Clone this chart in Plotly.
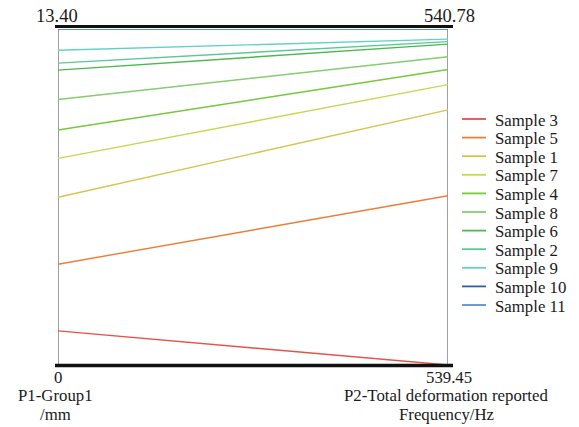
import plotly.graph_objects as go

samples = ["Sample 3", "Sample 5", "Sample 1", "Sample 7", "Sample 4", "Sample 8",
           "Sample 6", "Sample 2", "Sample 9", "Sample 10", "Sample 11"]
p1_group1_mm = [1.36, 4.02, 6.69, 8.24, 9.37, 10.59, 11.76, 12.04, 12.55, 13.40, 13.40]
p2_freq_hz = [539.45, 540.12, 540.46, 540.56, 540.62, 540.67, 540.72, 540.73, 540.74, 540.78, 540.78]
colors = ["#e8504a", "#ee7d34", "#d8c24a", "#c6d850", "#76c83c", "#86cc70",
          "#4cb850", "#5cc894", "#62d2c4", "#2a5fa8", "#5b8fd0"]

axis1_range = (0.0, 13.40)
axis2_range = (539.45, 540.78)
axis1_labels = ["P1-Group1", "/mm"]
axis2_labels = ["P2-Total deformation reported", "Frequency/Hz"]

FONT = "Liberation Serif"
W, H = 579, 427
ML, MR, MT, MB = 58, 131, 29, 62
PW, PH = W - ML - MR, H - MT - MB


def norm(v, rng):
    return (v - rng[0]) / (rng[1] - rng[0])


def px_x(x):
    return (x - ML) / PW


def px_y(y):
    return (H - MB - y) / PH


fig = go.Figure()
for name, a, b, c in zip(samples, p1_group1_mm, p2_freq_hz, colors):
    fig.add_trace(go.Scatter(
        x=[0, 1], y=[norm(a, axis1_range), norm(b, axis2_range)],
        mode="lines", name=name, line=dict(color=c, width=1.4),
        cliponaxis=False, hoverinfo="name", showlegend=False))

shapes = []
for xv in (0, 1):
    shapes.append(dict(type="line", xref="x", yref="y", x0=xv, x1=xv, y0=0, y1=1,
                       line=dict(color="#808080", width=1.5), layer="below"))
shapes.append(dict(type="line", xref="paper", yref="paper", x0=px_x(55), x1=px_x(453),
                   y0=px_y(26.5), y1=px_y(26.5), line=dict(color="#111111", width=3.2)))
shapes.append(dict(type="line", xref="paper", yref="paper", x0=px_x(55), x1=px_x(453),
                   y0=px_y(365.5), y1=px_y(365.5), line=dict(color="#111111", width=3.5)))

annotations = []
fs = 18.5
fs_stack = 16.8


def label(xp, yp, text, size=fs):
    annotations.append(dict(x=px_x(xp), y=px_y(yp), xref="paper", yref="paper", text=text,
                            showarrow=False, xanchor="center", yanchor="middle",
                            borderpad=0, font=dict(size=size)))


label(57, 15.5, "%.2f" % axis1_range[1])
label(449.5, 15.5, "%.2f" % axis2_range[1])
label(57.5, 377.5, "%g" % axis1_range[0], fs_stack)
label(449, 377.5, "%.2f" % axis2_range[0], fs_stack)
for i, t in enumerate(axis1_labels):
    label(55.5, 396 + 18.5 * i, t, fs_stack)
for i, t in enumerate(axis2_labels):
    label(446, 396 + 18.5 * i, t, fs_stack)

# legend
for i, (name, c) in enumerate(zip(samples, colors)):
    yp = 119 + 18.6 * i
    shapes.append(dict(type="line", xref="paper", yref="paper", x0=px_x(462), x1=px_x(486),
                       y0=px_y(yp), y1=px_y(yp), line=dict(color=c, width=1.8)))
    annotations.append(dict(x=px_x(494), y=px_y(yp + 1), xref="paper", yref="paper", text=name,
                            showarrow=False, xanchor="left", yanchor="middle", borderpad=0,
                            font=dict(size=fs_stack)))

fig.update_layout(
    width=W, height=H,
    margin=dict(l=ML, r=MR, t=MT, b=MB, autoexpand=False),
    paper_bgcolor="white", plot_bgcolor="white",
    font=dict(family=FONT, color="#1a1a1a", size=15),
    xaxis=dict(range=[0, 1], visible=False, fixedrange=True),
    yaxis=dict(range=[0, 1], visible=False, fixedrange=True),
    showlegend=False,
    shapes=shapes, annotations=annotations,
)

fig.write_html("out.html", config={"displayModeBar": False},
               post_script="document.body.style.margin='0';document.body.style.overflow='hidden';")
